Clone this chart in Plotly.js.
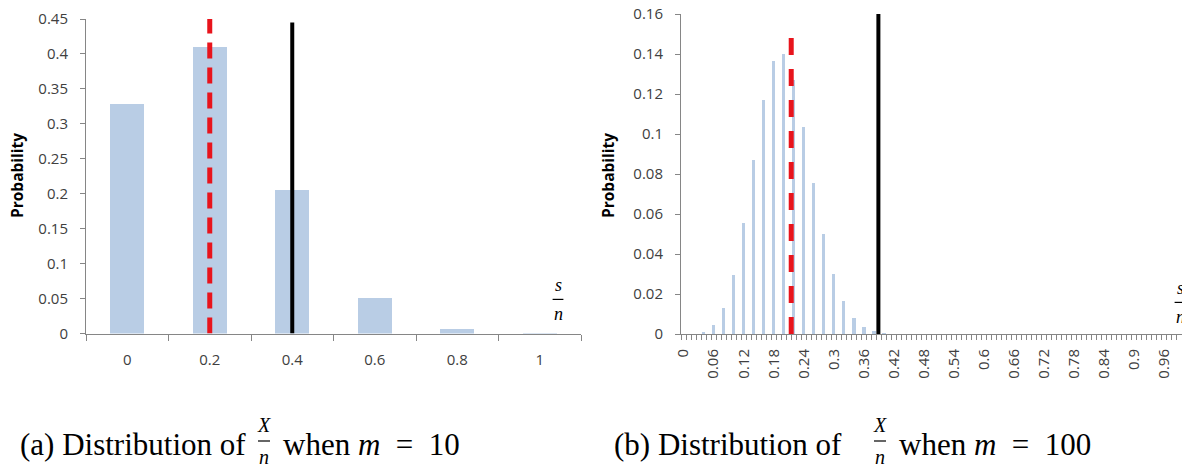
<!DOCTYPE html>
<html>
<head>
<meta charset="utf-8">
<script src="https://cdn.plot.ly/plotly-3.0.1.min.js"></script>
<style>
  html, body { margin: 0; padding: 0; background: #ffffff; }
  #chart { width: 1182px; height: 470px; }
</style>
</head>
<body>
<div id="chart"></div>
<script>
// ---------- data: (a) m = 10 ----------
const leftX = [0, 0.2, 0.4, 0.6, 0.8, 1];
const leftProb = [0.328, 0.41, 0.205, 0.051, 0.006, 0.0003];
const leftTickText = ['0', '0.2', '0.4', '0.6', '0.8', '1'];
const leftMeanLine = [0.2, 0.45];     // [x, top] red dashed
const leftThreshLine = [0.4, 0.445];  // [x, top] black solid

// ---------- data: (b) m = 100 ----------
const rightX = [0, 0.02, 0.04, 0.06, 0.08, 0.1, 0.12, 0.14, 0.16, 0.18, 0.2,
                0.22, 0.24, 0.26, 0.28, 0.3, 0.32, 0.34, 0.36, 0.38, 0.4];
const rightProb = [0.0000, 0.0002, 0.0011, 0.0044, 0.0128, 0.0295, 0.0554, 0.0870, 0.1169, 0.1364, 0.1398,
                   0.1271, 0.1033, 0.0755, 0.0499, 0.0299, 0.0164, 0.0082, 0.0037, 0.0015, 0.0005];
const rightTickText = ['0', '0.06', '0.12', '0.18', '0.24', '0.3', '0.36', '0.42', '0.48',
                       '0.54', '0.6', '0.66', '0.72', '0.78', '0.84', '0.9', '0.96'];
const rightMeanLine = [0.215, 0.154];   // [x, top] red dashed
const rightThreshLine = [0.389, 0.16];  // [x, top] black solid

const captionA = ['(a) Distribution of', 'when\u00a0<i>m</i>\u00a0\u00a0=\u00a0\u00a010'];
const captionB = ['(b) Distribution of', 'when\u00a0<i>m</i>\u00a0\u00a0=\u00a0\u00a0100'];

// ---------- styling ----------
const W = 1182, H = 470;
const px = v => v / W;
const py = v => 1 - v / H;
const barColor = '#b9cde5';
const axisColor = '#868686';
const tickFont = { family: 'Open Sans, sans-serif', size: 15, color: '#404040' };
const serif = 'Liberation Serif, Times New Roman, serif';

const traces = [
  { type: 'bar', x: leftX, y: leftProb, width: 0.082, marker: { color: barColor },
    xaxis: 'x', yaxis: 'y', hoverinfo: 'skip' },
  { type: 'scatter', mode: 'lines', x: [leftMeanLine[0], leftMeanLine[0]], y: [0, leftMeanLine[1]],
    line: { color: '#e8141c', width: 5, dash: '16px,9px' }, xaxis: 'x', yaxis: 'y', cliponaxis: false, hoverinfo: 'skip' },
  { type: 'scatter', mode: 'lines', x: [leftThreshLine[0], leftThreshLine[0]], y: [0, leftThreshLine[1]],
    line: { color: '#000000', width: 4 }, xaxis: 'x', yaxis: 'y', cliponaxis: false, hoverinfo: 'skip' },

  { type: 'bar', x: rightX, y: rightProb, width: 0.0066, marker: { color: barColor },
    xaxis: 'x2', yaxis: 'y2', hoverinfo: 'skip' },
  { type: 'scatter', mode: 'lines', x: [rightMeanLine[0], rightMeanLine[0]], y: [0, rightMeanLine[1]],
    line: { color: '#e8141c', width: 5, dash: '17px,14px' }, xaxis: 'x2', yaxis: 'y2', cliponaxis: false, hoverinfo: 'skip' },
  { type: 'scatter', mode: 'lines', x: [rightThreshLine[0], rightThreshLine[0]], y: [0, rightThreshLine[1]],
    line: { color: '#000000', width: 4 }, xaxis: 'x2', yaxis: 'y2', cliponaxis: false, hoverinfo: 'skip' }
];

const commonX = {
  showline: true, linecolor: axisColor, linewidth: 1, showgrid: false, zeroline: false,
  ticks: '', tickfont: tickFont, fixedrange: true
};
const commonY = {
  showline: true, linecolor: axisColor, linewidth: 1, showgrid: false, zeroline: false,
  ticks: 'outside', ticklen: 5, tickcolor: axisColor, tickfont: tickFont, fixedrange: true,
  ticklabelstandoff: 9
};

const shapes = [];
function frac(x, yTop, top, bottom, size) {
  const yBar = yTop + size * 0.8;
  shapes.push({ type: 'line', xref: 'paper', yref: 'paper', x0: px(x - size * 0.3), x1: px(x + size * 0.3),
                y0: py(yBar), y1: py(yBar), line: { color: '#000', width: 1.2 } });
  return [
    { text: top, x: px(x), y: py(yTop), xref: 'paper', yref: 'paper', xanchor: 'center', yanchor: 'middle',
      showarrow: false, font: { family: serif, size: size, color: '#000' } },
    { text: bottom, x: px(x), y: py(yTop + size * 1.6), xref: 'paper', yref: 'paper', xanchor: 'center', yanchor: 'middle',
      showarrow: false, font: { family: serif, size: size, color: '#000' } }
  ];
}

const annotations = [
  { text: '<b>Probability</b>', x: px(17), y: py(176), xref: 'paper', yref: 'paper', textangle: -90,
    xanchor: 'center', yanchor: 'middle', showarrow: false, font: { family: 'Open Sans, sans-serif', size: 15.5, color: '#000' } },
  { text: '<b>Probability</b>', x: px(608), y: py(175), xref: 'paper', yref: 'paper', textangle: -90,
    xanchor: 'center', yanchor: 'middle', showarrow: false, font: { family: 'Open Sans, sans-serif', size: 15.5, color: '#000' } },
  ...frac(558, 285, '<i>s</i>', '<i>n</i>', 18),
  ...frac(1180, 288, '<i>s</i>', '<i>n</i>', 18),
  { text: captionA[0], x: px(18), y: py(444), xref: 'paper', yref: 'paper', xanchor: 'left', yanchor: 'middle',
    showarrow: false, font: { family: serif, size: 31, color: '#000' } },
  ...frac(264, 425, '<i>X</i>', '<i>n</i>', 20),
  { text: captionA[1], x: px(281), y: py(444), xref: 'paper', yref: 'paper', xanchor: 'left', yanchor: 'middle',
    showarrow: false, font: { family: serif, size: 31, color: '#000' } },
  { text: captionB[0], x: px(612), y: py(444), xref: 'paper', yref: 'paper', xanchor: 'left', yanchor: 'middle',
    showarrow: false, font: { family: serif, size: 31, color: '#000' } },
  ...frac(880, 425, '<i>X</i>', '<i>n</i>', 20),
  { text: captionB[1], x: px(897), y: py(444), xref: 'paper', yref: 'paper', xanchor: 'left', yanchor: 'middle',
    showarrow: false, font: { family: serif, size: 31, color: '#000' } }
];

const layout = {
  width: W, height: H,
  margin: { l: 0, r: 0, t: 0, b: 0, pad: 0 },
  paper_bgcolor: '#ffffff', plot_bgcolor: '#ffffff',
  showlegend: false, bargap: 0,
  xaxis: Object.assign({}, commonX, {
    domain: [px(86), px(581)], range: [-0.1, 1.1], anchor: 'y',
    tickmode: 'array', tickvals: leftTickText.map(Number), ticktext: leftTickText,
    ticklabelstandoff: 12,
    minor: { ticks: 'outside', ticklen: 6, tickcolor: axisColor, tickmode: 'linear', tick0: -0.1, dtick: 0.2 }
  }),
  yaxis: Object.assign({}, commonY, {
    domain: [py(333.5), py(19)], range: [0, 0.45], anchor: 'x', tickmode: 'linear', tick0: 0, dtick: 0.05
  }),
  xaxis2: Object.assign({}, commonX, {
    domain: [px(681), 1], range: [-0.005, 0.995], anchor: 'y2', tickangle: -90,
    tickmode: 'array', tickvals: rightTickText.map(Number), ticktext: rightTickText,
    ticklabelstandoff: 8,
    minor: { ticks: 'outside', ticklen: 5, tickcolor: axisColor, tickmode: 'linear', tick0: -0.005, dtick: 0.01 }
  }),
  yaxis2: Object.assign({}, commonY, {
    domain: [py(334), py(14)], range: [0, 0.16], anchor: 'x2', tickmode: 'linear', tick0: 0, dtick: 0.02
  }),
  shapes: shapes,
  annotations: annotations
};

Plotly.newPlot('chart', traces, layout, { staticPlot: true, displayModeBar: false });
</script>
</body>
</html>
